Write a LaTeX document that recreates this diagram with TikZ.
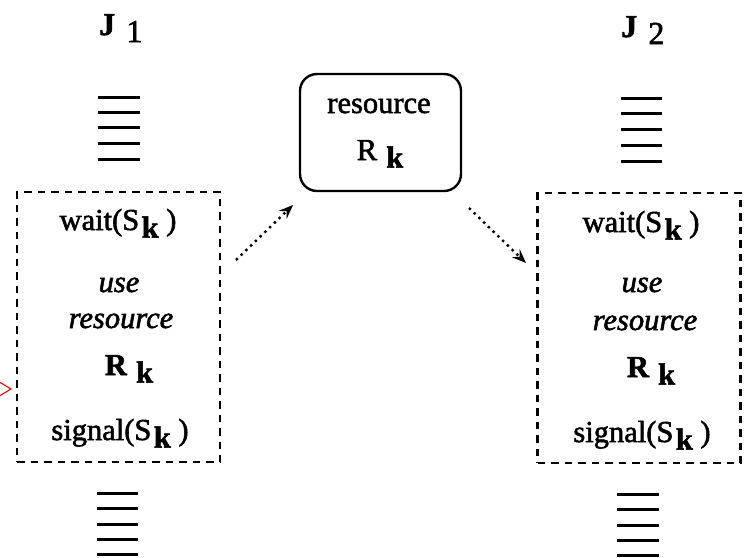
\documentclass[tikz,border=0pt]{standalone}
\usepackage{fontspec}
\setmainfont{Liberation Serif}[FakeBold=1.8]
\usetikzlibrary{arrows.meta}
\newcommand\subk[1][0.08em]{\hspace{#1}\raisebox{-0.25em}{\bfseries k}}
\begin{document}
\begin{tikzpicture}[x=1pt,y=-1pt,
  txt/.style={inner sep=0pt,anchor=base,font=\fontsize{30.5}{35}\selectfont},
  jobbox/.style={draw,line width=2.4pt,dash pattern=on 7.5pt off 6pt,minimum width=203pt,minimum height=270pt,inner sep=0pt},
  resbox/.style={draw,line width=2.4pt,rounded corners=17pt,minimum width=161pt,minimum height=117pt,inner sep=0pt},
  stackline/.style={line width=3pt},
  flow/.style={line width=2.4pt,dash pattern=on 2.4pt off 4.2pt,-{Stealth[length=14pt,width=11pt,inset=5pt]}}]
\useasboundingbox (0,0) rectangle (751,557);
% job labels
\node[txt,anchor=base west] (j1) at (99,35) {\fontsize{32}{36}\selectfont\bfseries J\hspace{0.35em}\raisebox{-0.22em}{\mdseries 1}};
\node[txt,anchor=base west] (j2) at (621,37) {\fontsize{32}{36}\selectfont\bfseries J\hspace{0.35em}\raisebox{-0.22em}{\mdseries 2}};
% stacked lines
\foreach \y in {97,112,127,143,159} \draw[stackline] (98,\y) -- (140,\y);
\foreach \y in {98,113,129,145,161} \draw[stackline] (621,\y) -- (662,\y);
\foreach \y in {493,508,524,539,554} \draw[stackline] (97,\y) -- (138,\y);
\foreach \y in {494,509,525,540,555} \draw[stackline] (617,\y) -- (659,\y);
% boxes
\node[jobbox] (box1) at (118.5,327) {};
\node[jobbox] (box2) at (639,328) {};
\node[resbox] (res) at (380.5,132.5) {};
% left box text
\node[txt] (w1) at (118,230) {wait(S\subk\ )};
\node[txt] (u1) at (119,292) {\itshape use};
\node[txt] (r1) at (121,328) {\itshape resource};
\node[txt] (k1) at (129,375) {\bfseries R\subk[0.3em]};
\node[txt] (s1) at (120,440) {signal(S\subk\ )};
% right box text
\node[txt] (w2) at (641,232) {wait(S\subk\ )};
\node[txt] (u2) at (642,292) {\itshape use};
\node[txt] (r2) at (645,330) {\itshape resource};
\node[txt] (k2) at (651,377) {\bfseries R\subk[0.3em]};
\node[txt] (s2) at (642,442) {signal(S\subk\ )};
% resource text
\node[txt] (rt) at (379,113) {resource};
\node[txt] (rk) at (380,160) {R\subk[0.3em]};
% arrows
\coordinate (a1s) at (236,260);
\coordinate (a1e) at (293,205);
\coordinate (a2s) at (469,208);
\coordinate (a2e) at (526,263);
\draw[flow] (a1s) -- (a1e);
\draw[flow] (a2s) -- (a2e);
% red mark
\coordinate (rs) at (-8,389);
\coordinate (re) at (12,389);
\draw[red,line width=1.1pt,-{Triangle[open,length=15pt,width=18pt]}] (rs) -- (re);
\end{tikzpicture}
\end{document}
